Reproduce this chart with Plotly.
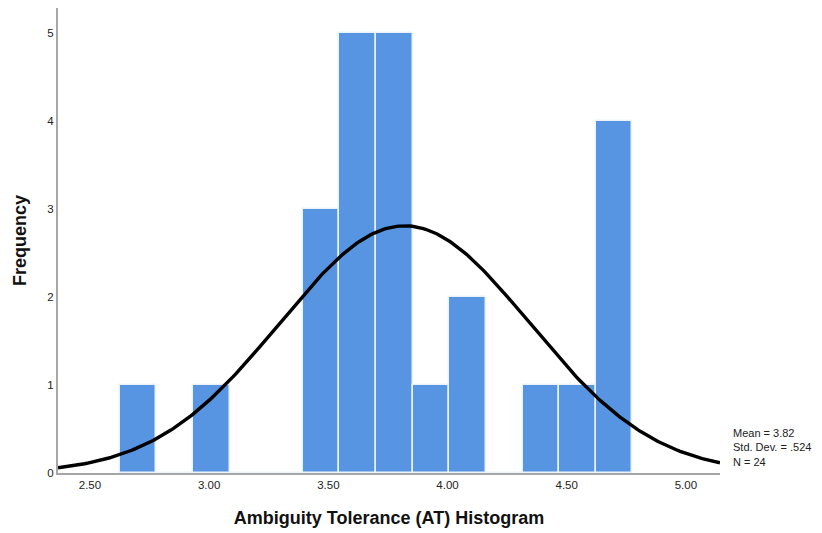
import numpy as np
import plotly.graph_objects as go

# Data
bin_start = 2.625
bin_width = 0.1536
counts = [1, 0, 1, 0, 0, 3, 5, 5, 1, 2, 0, 1, 1, 4]
mean_val = 3.82
std_val = 0.524
n_val = 24
x_ticks = [2.5, 3.0, 3.5, 4.0, 4.5, 5.0]
x_tick_labels = ["2.50", "3.00", "3.50", "4.00", "4.50", "5.00"]
y_ticks = [0, 1, 2, 3, 4, 5]
stats_text = "Mean = 3.82<br>Std. Dev. = .524<br>N = 24"

centers = [bin_start + bin_width * (i + 0.5) for i in range(len(counts))]

x_min, x_max = 2.366, 5.143
xs = np.linspace(x_min, x_max, 300)
ys = n_val * bin_width / (std_val * np.sqrt(2 * np.pi)) * np.exp(-0.5 * ((xs - mean_val) / std_val) ** 2)

fig = go.Figure()
fig.add_trace(go.Bar(
    x=centers, y=counts, width=bin_width,
    marker=dict(color="#5794E1", line=dict(color="#EAF3FC", width=1.5)),
    showlegend=False, hoverinfo="skip",
))
fig.add_trace(go.Scatter(
    x=xs, y=ys, mode="lines", line=dict(color="black", width=3.4),
    showlegend=False, hoverinfo="skip",
))

fig.update_layout(
    width=822, height=533,
    margin=dict(l=58, r=102, t=8, b=60),
    paper_bgcolor="white", plot_bgcolor="white",
    bargap=0,
    font=dict(family="Liberation Sans, Arial, sans-serif", color="#222222"),
    xaxis=dict(
        range=[x_min, x_max], tickvals=x_ticks, ticktext=x_tick_labels,
        showgrid=False, zeroline=False, showline=True, linecolor="#A6A6A6", linewidth=2,
        ticks="", tickfont=dict(size=11.5, color="#222222"),
        title=dict(text="<b>Ambiguity Tolerance (AT) Histogram</b>",
                   font=dict(size=18, color="#111111"), standoff=22),
    ),
    yaxis=dict(
        range=[0, 5.28], tickvals=y_ticks,
        showgrid=False, zeroline=False, showline=True, linecolor="#A6A6A6", linewidth=2,
        ticks="", tickfont=dict(size=11.5, color="#222222"),
        title=dict(text="<b>Frequency</b>", font=dict(size=18, color="#111111"), standoff=16),
    ),
    annotations=[dict(
        x=1.0, xref="paper", y=0.29, yref="y",
        xanchor="left", yanchor="middle", xshift=12, borderpad=0,
        text=stats_text, showarrow=False, align="left",
        font=dict(size=11, color="#222222"),
    )],
)

fig.write_html("out.html")
